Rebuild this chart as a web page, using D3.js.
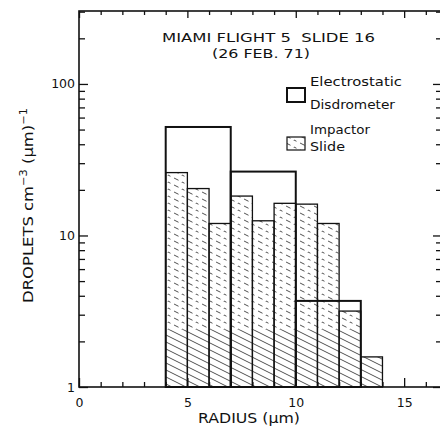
<!DOCTYPE html>
<html>
<head>
<meta charset="utf-8">
<script src="https://cdn.jsdelivr.net/npm/d3@7"></script>
<style>
body { margin: 0; background: #fff; }
text { font-family: "DejaVu Sans", sans-serif; fill: #111; white-space: pre; }
</style>
</head>
<body>
<div id="chart"></div>
<script>
// impactor slide: 1 um bins starting at these radii
const binStarts = [4, 5, 6, 7, 8, 9, 10, 11, 12, 13]
const impactor = [26, 20.4, 12, 18.2, 12.5, 16.3, 16.1, 12, 3.17, 1.58]
// electrostatic disdrometer: 3 um bins
const disdroStarts = [4, 7, 10]
const disdroEnds = [7, 10, 13]
const disdro = [52, 26.4, 3.7]

const xTickLabels = [0, 5, 10, 15]
const yTickLabels = [1, 10, 100]
const titleLines = ["MIAMI FLIGHT 5  SLIDE 16", "(26 FEB. 71)"]
const legendLines = [["Electrostatic", "Disdrometer"], ["Impactor", "Slide"]]

const W = 440, H = 439
const mLeft = 79, mRight = 441, mTop = 11, mBottom = 387
const solidBelow = 2.4   // hatching turns solid near the bottom

let svg = d3.select("#chart").append("svg").attr("width", W).attr("height", H)
let x = d3.scaleLinear().domain([0, 16.7]).range([mLeft, mRight])
let y = d3.scaleLog().domain([1, 303]).range([mBottom, mTop])

// hatch patterns
let defs = svg.append("defs")
function hatch(id, dash) {
    let p = defs.append("pattern").attr("id", id)
        .attr("patternUnits", "userSpaceOnUse")
        .attr("width", 14).attr("height", 7)
    p.append("path")
        .attr("d", "M-2,-1L16,8M-2,6L2,8M12,-1L16,1")
        .attr("stroke", "#222").attr("stroke-width", 0.8).attr("fill", "none")
        .attr("stroke-dasharray", dash)
}
hatch("hatchSolid", null)
hatch("hatchDash", "5 4")

// impactor bars
let imp = svg.append("g").attr("class", "impactor")
let bars = binStarts.map((s, i) => ({x0: s, x1: s + 1, v: impactor[i]}))
imp.selectAll("rect.low").data(bars).join("rect").attr("class", "low")
    .attr("x", d => x(d.x0)).attr("width", d => x(d.x1) - x(d.x0))
    .attr("y", d => y(Math.min(d.v, solidBelow)))
    .attr("height", d => y(1) - y(Math.min(d.v, solidBelow)))
    .attr("fill", "url(#hatchSolid)")
imp.selectAll("rect.high").data(bars.filter(d => d.v > solidBelow)).join("rect").attr("class", "high")
    .attr("x", d => x(d.x0)).attr("width", d => x(d.x1) - x(d.x0))
    .attr("y", d => y(d.v))
    .attr("height", d => y(solidBelow) - y(d.v))
    .attr("fill", "url(#hatchDash)")
imp.selectAll("rect.out").data(bars).join("rect").attr("class", "out")
    .attr("x", d => x(d.x0)).attr("width", d => x(d.x1) - x(d.x0))
    .attr("y", d => y(d.v)).attr("height", d => y(1) - y(d.v))
    .attr("fill", "none").attr("stroke", "#111").attr("stroke-width", 1.3)

// disdrometer bars
let dis = disdroStarts.map((s, i) => ({x0: s, x1: disdroEnds[i], v: disdro[i]}))
svg.append("g").selectAll("rect").data(dis).join("rect")
    .attr("x", d => x(d.x0)).attr("width", d => x(d.x1) - x(d.x0))
    .attr("y", d => y(d.v)).attr("height", d => y(1) - y(d.v))
    .attr("fill", "none").attr("stroke", "#111").attr("stroke-width", 2)

// axes
let logTicks = []
;[1, 10, 100].forEach(dec => { for (let k = 1; k < 10; k++) if (dec * k <= 303) logTicks.push(dec * k) })
let majorY = logTicks.filter(d => yTickLabels.includes(d))
let minorY = logTicks.filter(d => !yTickLabels.includes(d))
let unitTicks = d3.range(0, 17)
let majorX = unitTicks.filter(d => d % 5 == 0)
let minorX = unitTicks.filter(d => d % 5 != 0)

function addAxis(axis, tx, ty) {
    let g = svg.append("g").attr("transform", "translate(" + tx + "," + ty + ")").call(axis)
    g.select(".domain").remove()
    g.selectAll(".tick line").attr("stroke", "#111").attr("stroke-width", 1.3)
    g.selectAll("text").style("font-family", "DejaVu Sans").attr("fill", "#111")
    return g
}
addAxis(d3.axisLeft(y).tickValues(minorY).tickSize(-6).tickFormat(""), mLeft, 0)
addAxis(d3.axisLeft(y).tickValues(majorY).tickSize(-9).tickPadding(4)
    .tickFormat(d => String(d)), mLeft, 0).attr("font-size", 12.5)
addAxis(d3.axisRight(y).tickValues(minorY).tickSize(-5).tickFormat(""), mRight, 0)
addAxis(d3.axisRight(y).tickValues(majorY).tickSize(-8).tickFormat(""), mRight, 0)
addAxis(d3.axisBottom(x).tickValues(minorX).tickSize(-5).tickFormat(""), 0, mBottom)
addAxis(d3.axisBottom(x).tickValues(majorX).tickSize(-9).tickPadding(11)
    .tickFormat(d => xTickLabels.includes(d) ? String(d) : ""), 0, mBottom).attr("font-size", 12.5)
addAxis(d3.axisTop(x).tickValues(minorX).tickSize(-4).tickFormat(""), 0, mTop)
addAxis(d3.axisTop(x).tickValues(majorX).tickSize(-7).tickFormat(""), 0, mTop)

svg.append("rect").attr("x", mLeft).attr("y", mTop)
    .attr("width", mRight - mLeft).attr("height", mBottom - mTop)
    .attr("fill", "none").attr("stroke", "#111").attr("stroke-width", 1.6)

// title
svg.append("text").attr("x", 162).attr("y", 42).attr("font-size", 13)
    .attr("textLength", 213).attr("lengthAdjust", "spacingAndGlyphs").text(titleLines[0])
svg.append("text").attr("x", 212).attr("y", 58).attr("font-size", 13)
    .attr("textLength", 98).attr("lengthAdjust", "spacingAndGlyphs").text(titleLines[1])

// legend
svg.append("rect").attr("x", 287).attr("y", 88).attr("width", 18).attr("height", 14)
    .attr("fill", "none").attr("stroke", "#111").attr("stroke-width", 2)
svg.append("rect").attr("x", 287).attr("y", 137).attr("width", 18).attr("height", 13)
    .attr("fill", "url(#hatchDash)").attr("stroke", "#111").attr("stroke-width", 1.2)
let legendBase = [[86, 109], [134, 151]]
let legendLen = [[92, 85], [60, 35]]
legendLines.forEach((lines, i) => {
    lines.forEach((t, j) => {
        svg.append("text").attr("x", 310).attr("y", legendBase[i][j]).attr("font-size", 13)
            .attr("textLength", legendLen[i][j]).attr("lengthAdjust", "spacingAndGlyphs").text(t)
    })
})

// axis titles
svg.append("text").attr("x", 198).attr("y", 423).attr("font-size", 13.5)
    .attr("textLength", 102).attr("lengthAdjust", "spacingAndGlyphs").text("RADIUS (µm)")
let yl = svg.append("text").attr("transform", "translate(33,303) rotate(-90)")
    .attr("font-size", 14.5).attr("textLength", 195).attr("lengthAdjust", "spacingAndGlyphs")
yl.append("tspan").text("DROPLETS cm")
yl.append("tspan").attr("dy", -6).attr("font-size", 10).text("−3")
yl.append("tspan").attr("dy", 6).text(" (µm)")
yl.append("tspan").attr("dy", -6).attr("font-size", 10).text("−1")
</script>
</body>
</html>
